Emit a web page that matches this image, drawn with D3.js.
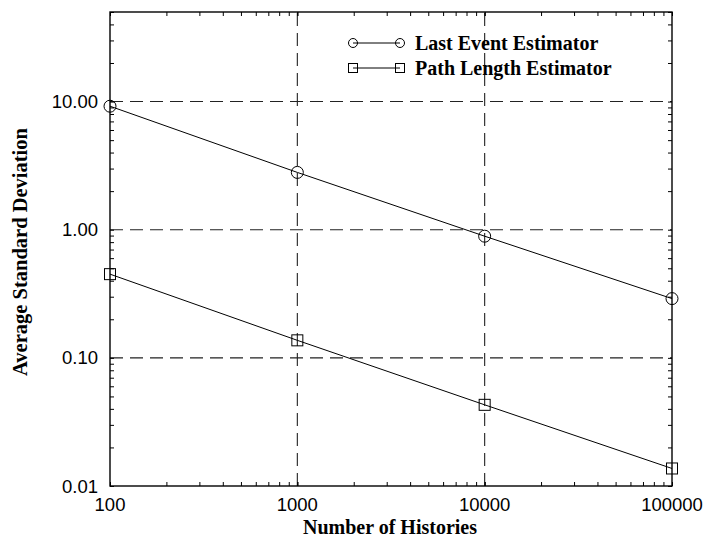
<!DOCTYPE html>
<html>
<head>
<meta charset="utf-8">
<script src="https://cdn.jsdelivr.net/npm/d3@7"></script>
<style>
  html, body { margin: 0; padding: 0; background: #fff; }
  svg { display: block; }
</style>
</head>
<body>
<svg id="chart" width="706" height="539"></svg>
<script>
// Number of histories (x) and average standard deviation for each estimator (y)
const histories = [100, 1000, 10000, 100000];
const lastEvent = [9.2, 2.8, 0.89, 0.29];
const pathLength = [0.45, 0.137, 0.043, 0.0137];

const xTickValues = [100, 1000, 10000, 100000];
const xTickLabels = ["100", "1000", "10000", "100000"];
const yTickValues = [0.01, 0.1, 1, 10];
const yTickLabels = ["0.01", "0.10", "1.00", "10.00"];

const seriesNames = ["Last Event Estimator", "Path Length Estimator"];

const svg = d3.select("#chart");
const margin = { left: 110, right: 34, top: 12, bottom: 53 };
const W = 706, H = 539;

const x = d3.scaleLog().domain([100, 100000]).range([margin.left, W - margin.right]);
const y = d3.scaleLog().domain([0.01, 50]).range([H - margin.bottom, margin.top]);

const x0 = x.range()[0], x1 = x.range()[1];
const y0 = y.range()[0], y1 = y.range()[1];

const sansFont = "Liberation Sans, Arial, sans-serif";
const serifFont = "Liberation Serif, Times New Roman, serif";

// Dashed decade grid lines inside the frame
const g = svg.append("g");
xTickValues.filter(v => v > 100 && v < 100000).forEach(v => {
  g.append("line").attr("x1", x(v)).attr("x2", x(v)).attr("y1", y0).attr("y2", y1)
    .attr("stroke", "#222").attr("stroke-width", 1.1).attr("stroke-dasharray", "13,7");
});
yTickValues.filter(v => v > 0.01).forEach(v => {
  g.append("line").attr("x1", x0).attr("x2", x1).attr("y1", y(v)).attr("y2", y(v))
    .attr("stroke", "#222").attr("stroke-width", 1.1).attr("stroke-dasharray", "13,7");
});

// Minor log ticks on all four sides, pointing inward
const minorX = [];
for (let d = 100; d < 100000; d *= 10) for (let k = 1; k <= 10; k++) minorX.push(d * k);
const minorY = [];
for (let d = 0.01; d < 50; d *= 10) for (let k = 1; k <= 9; k++) { const v = d * k; if (v <= 50) minorY.push(v); }

const tickLen = 4;
svg.append("g").call(d3.axisBottom(x).tickValues(minorX).tickSize(tickLen).tickFormat(""))
  .attr("transform", `translate(0,${y0 - tickLen})`).call(s => s.select(".domain").remove());
svg.append("g").call(d3.axisTop(x).tickValues(minorX).tickSize(tickLen).tickFormat(""))
  .attr("transform", `translate(0,${y1 + tickLen})`).call(s => s.select(".domain").remove());
svg.append("g").call(d3.axisRight(y).tickValues(minorY).tickSize(tickLen).tickFormat(""))
  .attr("transform", `translate(${x0},0)`).call(s => s.select(".domain").remove());
svg.append("g").call(d3.axisLeft(y).tickValues(minorY).tickSize(tickLen).tickFormat(""))
  .attr("transform", `translate(${x1},0)`).call(s => s.select(".domain").remove());

// Frame
svg.append("rect").attr("x", x0).attr("y", y1).attr("width", x1 - x0).attr("height", y0 - y1)
  .attr("fill", "none").attr("stroke", "#000").attr("stroke-width", 1.4);

// Tick labels
svg.append("g").selectAll("text").data(xTickValues).join("text")
  .attr("x", d => x(d)).attr("y", y0 + 25)
  .attr("text-anchor", "middle")
  .attr("font-family", sansFont).attr("font-size", 18.5)
  .text((d, i) => xTickLabels[i]);
svg.append("g").selectAll("text").data(yTickValues).join("text")
  .attr("x", x0 - 12).attr("y", d => y(d) + 6.5)
  .attr("text-anchor", "end")
  .attr("font-family", sansFont).attr("font-size", 18.5)
  .text((d, i) => yTickLabels[i]);

// Axis titles
svg.append("text").attr("x", 390).attr("y", 534)
  .attr("text-anchor", "middle")
  .attr("font-family", serifFont).attr("font-weight", "bold").attr("font-size", 20)
  .text("Number of Histories");
svg.append("text").attr("transform", `translate(27,252) rotate(-90)`)
  .attr("text-anchor", "middle")
  .attr("font-family", serifFont).attr("font-weight", "bold").attr("font-size", 20.5)
  .text("Average Standard Deviation");

// Series
const line = d3.line().x(d => x(d[0])).y(d => y(d[1]));
const series = [
  { name: seriesNames[0], values: lastEvent, shape: "circle" },
  { name: seriesNames[1], values: pathLength, shape: "square" }
];

function drawMarker(sel, shape, cx, cy, size) {
  if (shape === "circle") {
    sel.append("circle").attr("cx", cx).attr("cy", cy).attr("r", size / 2)
      .attr("fill", "none").attr("stroke", "#000").attr("stroke-width", 1);
  } else {
    sel.append("rect").attr("x", cx - size / 2).attr("y", cy - size / 2)
      .attr("width", size).attr("height", size)
      .attr("fill", "none").attr("stroke", "#000").attr("stroke-width", 1);
  }
}

series.forEach(s => {
  const pts = histories.map((h, i) => [h, s.values[i]]);
  svg.append("path").datum(pts).attr("d", line)
    .attr("fill", "none").attr("stroke", "#000").attr("stroke-width", 1);
  const mg = svg.append("g");
  pts.forEach(p => drawMarker(mg, s.shape, x(p[0]), y(p[1]), s.shape === "circle" ? 12 : 11));
});

// Legend
const legend = svg.append("g");
series.forEach((s, i) => {
  const ly = 43 + i * 25;
  const lx0 = 353, lx1 = 400;
  legend.append("line").attr("x1", lx0).attr("x2", lx1).attr("y1", ly).attr("y2", ly)
    .attr("stroke", "#000").attr("stroke-width", 1);
  drawMarker(legend, s.shape, lx0, ly, 9);
  drawMarker(legend, s.shape, lx1, ly, 9);
  legend.append("text").attr("x", 415).attr("y", ly + 6.5)
    .attr("font-family", serifFont).attr("font-weight", "bold").attr("font-size", 20)
    .text(s.name);
});
</script>
</body>
</html>
